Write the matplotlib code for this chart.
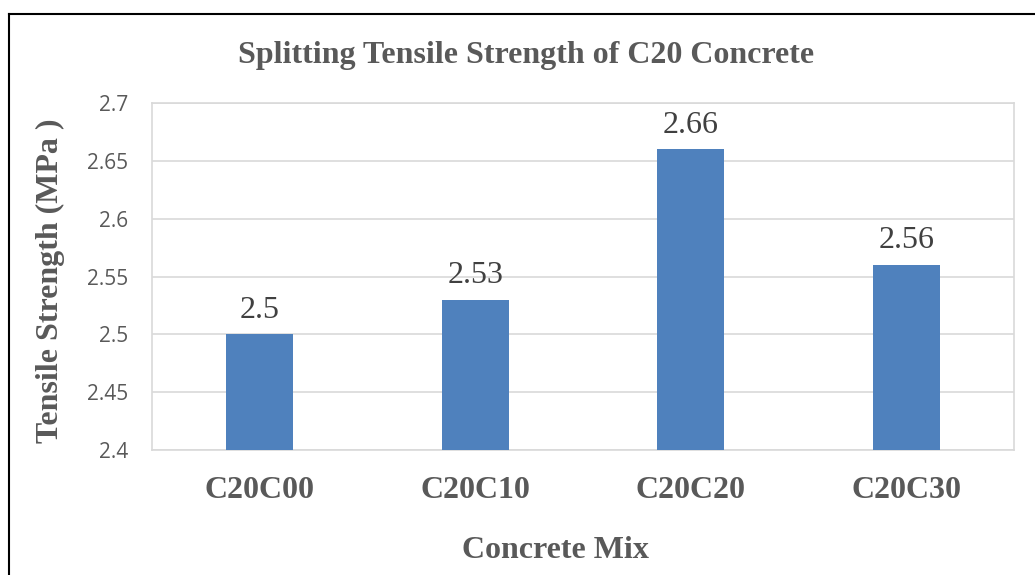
import matplotlib
matplotlib.use("Agg")
import matplotlib.pyplot as plt
from matplotlib.lines import Line2D

categories = ["C20C00", "C20C10", "C20C20", "C20C30"]
values = [2.5, 2.53, 2.66, 2.56]
yticks = [2.4, 2.45, 2.5, 2.55, 2.6, 2.65, 2.7]
ytick_labels = ["2.4", "2.45", "2.5", "2.55", "2.6", "2.65", "2.7"]
title = "Splitting Tensile Strength of C20 Concrete"
xlabel = "Concrete Mix"
ylabel = "Tensile Strength (MPa )"

W, H = 1035, 575
fig = plt.figure(figsize=(W / 100, H / 100), dpi=100)
fig.patch.set_facecolor("white")

serif = ["Liberation Serif", "DejaVu Serif"]
grey = "#595959"
fs = 23

ax = fig.add_axes([152 / W, 1 - 450 / H, (1014 - 152) / W, (450 - 103) / H])
x = list(range(len(categories)))
bars = ax.bar(x, values, width=0.31, color="#4F81BD", zorder=3)
ax.set_ylim(2.4, 2.7)
ax.set_xlim(-0.5, len(categories) - 0.5)
ax.set_yticks(yticks)
ax.set_yticklabels(ytick_labels, fontfamily="Open Sans", fontsize=15, color=grey)
ax.set_xticks(x)
ax.set_xticklabels(categories, fontfamily=serif, fontsize=fs, fontweight="bold", color=grey)
ax.tick_params(axis="y", length=0, pad=17)
ax.tick_params(axis="x", length=0, pad=19)
ax.grid(axis="y", color="#D9D9D9", linewidth=1.2, zorder=0)
for s in ax.spines.values():
    s.set_color("#D9D9D9")
    s.set_linewidth(1.2)

for xi, v in zip(x, values):
    ax.annotate(f"{v:g}", (xi, v), xytext=(0, 7), textcoords="offset points",
                ha="center", va="bottom", fontfamily=serif, fontsize=fs, color="#404040")

fig.text(526 / W, 1 - 55 / H, title, ha="center", va="center", fontfamily=serif,
         fontsize=fs, fontweight="bold", color=grey)
fig.text(555 / W, 1 - 550 / H, xlabel, ha="center", va="center", fontfamily=serif,
         fontsize=fs, fontweight="bold", color=grey)
fig.text(50 / W, 1 - 281 / H, ylabel, ha="center", va="center", rotation=90,
         fontfamily=serif, fontsize=fs, fontweight="bold", color=grey)

# outer border (left and top visible)
fig.add_artist(Line2D([8.5 / W, 8.5 / W], [0, 1 - 13.5 / H], transform=fig.transFigure,
                      color="black", linewidth=1.5))
fig.add_artist(Line2D([8.5 / W, 1], [1 - 13.5 / H, 1 - 13.5 / H], transform=fig.transFigure,
                      color="black", linewidth=1.5))

fig.savefig("out.png", dpi=100)
